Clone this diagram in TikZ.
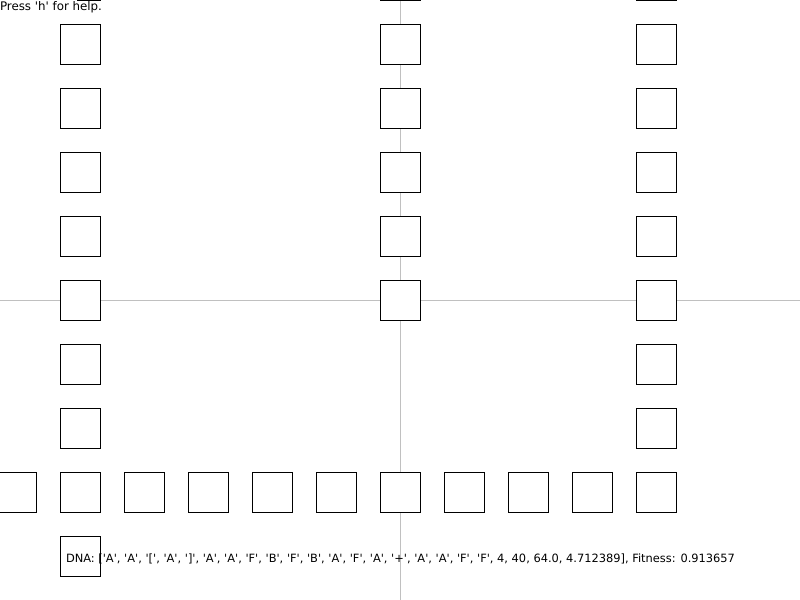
\documentclass[tikz,border=0pt]{standalone}
\usepackage{fontspec}
\setmainfont{DejaVu Sans}
\newlength{\px}
\setlength{\px}{0.75pt}
\newcommand{\q}{\textquotesingle}
\definecolor{axisgray}{HTML}{C0C0C0}
\tikzset{
  cell/.style={draw=black, fill=white, line width=0.75pt, minimum size=40\px, inner sep=0pt, outer sep=0pt, anchor=north west},
  axis/.style={draw=axisgray, line width=0.75pt},
  label/.style={inner sep=0pt, outer sep=0pt, anchor=west, text=black}
}
\begin{document}
\begin{tikzpicture}[x=0.75pt, y=-0.75pt]
\useasboundingbox (0,0) rectangle (800,600);
\clip (0,0) rectangle (800,600);
\fill[white] (0,0) rectangle (800,600);
% axes
\coordinate (hl) at (0,300); \coordinate (hr) at (800,300);
\coordinate (vt) at (400,0); \coordinate (vb) at (400,600);
\draw[axis] (hl) -- (hr);
\draw[axis] (vt) -- (vb);
% left column
\foreach \y [count=\i] in {-40,24,88,152,216,280,344,408,472,536}
  \node[cell] (L\i) at (60,\y) {};
% middle column
\foreach \y [count=\i] in {-40,24,88,152,216,280,472}
  \node[cell] (M\i) at (380,\y) {};
% right column
\foreach \y [count=\i] in {-40,24,88,152,216,280,344,408,472}
  \node[cell] (R\i) at (636,\y) {};
% bottom row
\foreach \x [count=\i] in {-4,124,188,252,316,444,508,572}
  \node[cell] (B\i) at (\x,472) {};
% help text
\fill[white] (0,-1) rectangle (77,14);
\node[label] (help) at (0,7) {\resizebox{102\px}{!}{Press \q h\q{} for help.}};
\node[label] (dna) at (66,559) {\resizebox{669\px}{!}{DNA: [\q A\q, \q A\q, \q[\q, \q A\q, \q]\q, \q A\q, \q A\q, \q F\q, \q B\q, \q F\q, \q B\q, \q A\q, \q F\q, \q A\q, \q+\q, \q A\q, \q A\q, \q F\q, \q F\q, 4, 40, 64.0, 4.712389], Fitness: 0.913657}};
\end{tikzpicture}
\end{document}
